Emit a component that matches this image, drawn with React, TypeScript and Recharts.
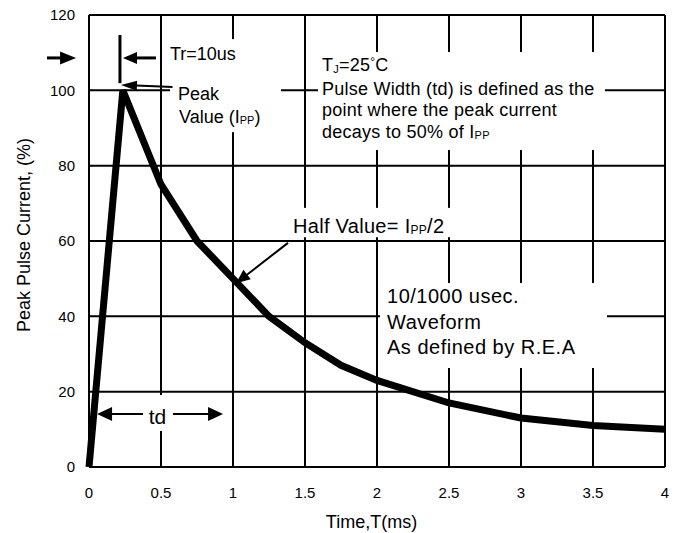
import React from 'react';
import { LineChart, Line, XAxis, YAxis, CartesianGrid, ReferenceArea, ReferenceLine } from 'recharts';

// Chart values
const timeMs = [0, 0.235, 0.5, 0.75, 1.0, 1.25, 1.5, 1.75, 2.0, 2.5, 3.0, 3.5, 4.0];
const peakCurrent = [0, 100, 75, 60, 50, 40, 33, 27, 23, 17, 13, 11, 10];
const xTicks = [0, 0.5, 1, 1.5, 2, 2.5, 3, 3.5, 4];
const yTicks = [0, 20, 40, 60, 80, 100, 120];

const data = timeMs.map((t, i) => ({ t, v: peakCurrent[i] }));

const FONT = '"Liberation Sans", Arial, Helvetica, sans-serif';
const W = 677;
const H = 533;

const arrow = (head: number, half: number, sw: number) => (p: any) => {
  const { x1, y1, x2, y2 } = p;
  const dx = x2 - x1;
  const dy = y2 - y1;
  const len = Math.hypot(dx, dy) || 1;
  const ux = dx / len;
  const uy = dy / len;
  const bx = x2 - ux * head;
  const by = y2 - uy * head;
  return (
    <g>
      <line x1={x1} y1={y1} x2={bx + ux * 1} y2={by + uy * 1} stroke="#000" strokeWidth={sw} />
      <polygon
        points={`${x2},${y2} ${bx - uy * half},${by + ux * half} ${bx + uy * half},${by - ux * half}`}
        fill="#000"
      />
    </g>
  );
};

const box = (render: (x: number, y: number) => React.ReactNode) => (p: any) => (
  <g>
    <rect x={p.x} y={p.y} width={p.width} height={p.height} fill="#fff" stroke="none" />
    {render(p.x, p.y)}
  </g>
);

const txt = { fill: '#000', fontFamily: FONT } as const;

export default function App() {
  return (
    <div style={{ position: 'absolute', left: 0, top: 0, width: W, height: H, background: '#fff' }}>
      <LineChart width={W} height={H} data={data} margin={{ top: 15, right: 12, left: 0, bottom: 0 }}>
        <CartesianGrid stroke="#000" strokeWidth={2} />
        <XAxis
          type="number"
          dataKey="t"
          domain={[0, 4]}
          ticks={xTicks}
          height={66}
          axisLine={{ stroke: '#000', strokeWidth: 2 }}
          tickLine={false}
          tickSize={0}
          tickMargin={20}
          tick={{ fill: '#000', fontSize: 15, fontFamily: FONT }}
          label={{
            content: (lp: any) => {
              const vb = lp.viewBox;
              return (
                <text x={vb.x + vb.width / 2 - 5.5} y={vb.y + 60.5} textAnchor="middle" fontSize={18} {...txt}>
                  Time,T(ms)
                </text>
              );
            },
          }}
        />
        <YAxis
          type="number"
          domain={[0, 120]}
          ticks={yTicks}
          width={89}
          axisLine={{ stroke: '#000', strokeWidth: 2 }}
          tickLine={false}
          tickSize={0}
          tickMargin={14}
          tick={{ fill: '#000', fontSize: 15, fontFamily: FONT }}
          label={{
            content: () => (
              <text x={30} y={235} transform="rotate(-90 30 235)" textAnchor="middle" fontSize={18} {...txt}>
                Peak Pulse Current, (%)
              </text>
            ),
          }}
        />

        <ReferenceLine y={120} stroke="#000" strokeWidth={2} />
        <ReferenceLine x={4} stroke="#000" strokeWidth={2} />

        {/* Tr / Peak text box */}
        <ReferenceArea
          x1={0.5625}
          x2={1.3333}
          y1={88.9}
          y2={113.6}
          ifOverflow="visible"
          shape={box((x, y) => (
            <g>
              <text x={x} y={y + 20.5} fontSize={18} {...txt}>Tr=10us</text>
              <text x={x + 8} y={y + 60.5} fontSize={18} {...txt}>Peak</text>
              <text x={x + 9} y={y + 83.5} fontSize={18} {...txt}>
                Value (I<tspan fontSize={11} dy={1}>PP</tspan>
                <tspan dy={-1}>)</tspan>
              </text>
            </g>
          ))}
        />
        {/* Pulse width definition box */}
        <ReferenceArea
          x1={1.59}
          x2={3.583}
          y1={84.16}
          y2={110.17}
          ifOverflow="visible"
          shape={box((x, y) => (
            <g fontSize={18} letterSpacing={0.25}>
              <text x={x + 4} y={y + 19} {...txt}>
                T<tspan fontSize={11} dy={2}>J</tspan>
                <tspan dy={-2}>=25</tspan>
                <tspan fontSize={12} dy={-5}>°</tspan>
                <tspan dy={5}>C</tspan>
              </text>
              <text x={x + 4} y={y + 42.5} {...txt}>Pulse Width (td) is defined as the</text>
              <text x={x + 4} y={y + 64} {...txt}>point where the peak current</text>
              <text x={x + 4} y={y + 85.5} {...txt}>
                decays to 50% of I<tspan fontSize={11} dy={1}>PP</tspan>
              </text>
            </g>
          ))}
        />
        {/* Half value box */}
        <ReferenceArea
          x1={1.382}
          x2={2.694}
          y1={61}
          y2={68.8}
          ifOverflow="visible"
          shape={box((x, y) => (
            <text x={x + 5} y={y + 25} fontSize={20} letterSpacing={0.3} {...txt}>
              Half Value= I<tspan fontSize={12} dy={1}>PP</tspan>
              <tspan dy={-1}>/2</tspan>
            </text>
          ))}
        />
        {/* Waveform box */}
        <ReferenceArea
          x1={2.021}
          x2={3.597}
          y1={26.28}
          y2={48.85}
          ifOverflow="visible"
          shape={box((x, y) => (
            <g fontSize={20} letterSpacing={0.5}>
              <text x={x + 7} y={y + 20.5} {...txt}>10/1000 usec.</text>
              <text x={x + 7} y={y + 46.5} {...txt}>Waveform</text>
              <text x={x + 7} y={y + 71} {...txt}>As defined by R.E.A</text>
            </g>
          ))}
        />
        {/* td box */}
        <ReferenceArea
          x1={0.389}
          x2={0.5625}
          y1={9.56}
          y2={19.1}
          ifOverflow="visible"
          shape={box((x, y) => (
            <text x={x + 12.5} y={y + 29} fontSize={21} textAnchor="middle" {...txt}>td</text>
          ))}
        />

        {/* Arrows and marks */}
        <ReferenceLine
          segment={[{ x: -0.292, y: 108.6 }, { x: -0.09, y: 108.6 }]}
          ifOverflow="visible"
          shape={arrow(16, 6.5, 3)}
        />
        <ReferenceLine
          segment={[{ x: 0.215, y: 114.7 }, { x: 0.215, y: 101.9 }]}
          ifOverflow="visible"
          stroke="#000"
          strokeWidth={3}
        />
        <ReferenceLine
          segment={[{ x: 0.465, y: 108.6 }, { x: 0.236, y: 108.6 }]}
          ifOverflow="visible"
          shape={arrow(14, 6, 3)}
        />
        <ReferenceLine
          segment={[{ x: 0.58, y: 100.9 }, { x: 0.222, y: 101.4 }]}
          ifOverflow="visible"
          shape={arrow(16, 5, 2)}
        />
        <ReferenceLine
          segment={[{ x: 1.382, y: 59.5 }, { x: 1.021, y: 48.8 }]}
          ifOverflow="visible"
          shape={arrow(14, 6, 2)}
        />
        <ReferenceLine
          segment={[{ x: 0.375, y: 14.07 }, { x: 0.056, y: 14.07 }]}
          ifOverflow="visible"
          shape={arrow(15, 7, 2)}
        />
        <ReferenceLine
          segment={[{ x: 0.583, y: 14.07 }, { x: 0.931, y: 14.07 }]}
          ifOverflow="visible"
          shape={arrow(15, 7, 2)}
        />

        <Line
          type="linear"
          dataKey="v"
          stroke="#000"
          strokeWidth={7}
          dot={false}
          activeDot={false}
          isAnimationActive={false}
        />
      </LineChart>
    </div>
  );
}
